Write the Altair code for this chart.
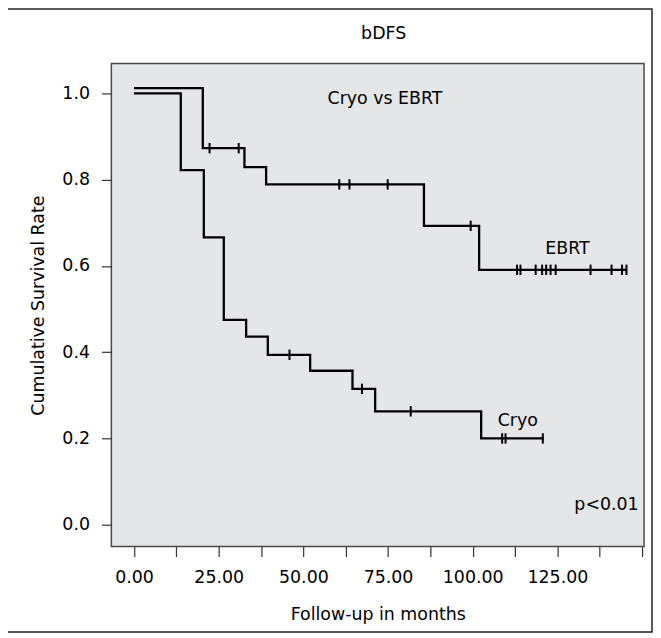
import altair as alt
import pandas as pd

# ---- data ----
ebrt_time = [0, 20.3, 32.6, 39.0, 85.6, 101.9, 145.6]
ebrt_surv = [1.012, 0.873, 0.829, 0.789, 0.693, 0.591, 0.591]
ebrt_cens_time = [22.3, 30.9, 60.6, 63.6, 74.9, 99.4, 113.1, 114.1, 118.6,
                  120.5, 121.7, 123.0, 124.5, 134.8, 141.0, 144.1, 145.4]
ebrt_cens_surv = [0.873, 0.873, 0.789, 0.789, 0.789, 0.693] + [0.591] * 11

cryo_time = [0, 13.8, 20.6, 26.5, 33.1, 39.5, 52.0, 64.5, 71.2, 102.5, 121.0]
cryo_surv = [1.0, 0.822, 0.666, 0.475, 0.436, 0.394, 0.357, 0.315, 0.263, 0.200, 0.200]
cryo_cens_time = [45.9, 67.3, 81.7, 108.7, 109.7, 120.7]
cryo_cens_surv = [0.394, 0.315, 0.263, 0.200, 0.200, 0.200]

ann_text = ["Cryo vs EBRT", "EBRT", "Cryo"]
ann_x = [74.1, 128.0, 113.3]
ann_y = [0.988, 0.64, 0.24]

p_text = ["p<0.01"]
p_x = [149.0]
p_y = [0.046]

title_text = "bDFS"

x_ticks = [0, 12.5, 25, 37.5, 50, 62.5, 75, 87.5, 100, 112.5, 125, 137.5, 150]
y_ticks = [0.0, 0.2, 0.4, 0.6, 0.8, 1.0]

FONT = "DejaVu Sans"
FS = 17.5

lines = pd.concat([
    pd.DataFrame({"group": "EBRT", "t": ebrt_time, "s": ebrt_surv}),
    pd.DataFrame({"group": "Cryo", "t": cryo_time, "s": cryo_surv}),
])
cens = pd.concat([
    pd.DataFrame({"group": "EBRT", "t": ebrt_cens_time, "s": ebrt_cens_surv}),
    pd.DataFrame({"group": "Cryo", "t": cryo_cens_time, "s": cryo_cens_surv}),
])
ann = pd.DataFrame({"label": ann_text, "t": ann_x, "s": ann_y})
pann = pd.DataFrame({"label": p_text, "t": p_x, "s": p_y})

xscale = alt.Scale(domain=[-6.7, 150.6], nice=False, zero=False)
yscale = alt.Scale(domain=[-0.0507, 1.0691], nice=False, zero=False)

xenc = alt.X("t:Q", scale=xscale, title="Follow-up in months",
             axis=alt.Axis(values=x_ticks,
                           labelExpr="(datum.value % 25 == 0 && datum.value <= 125) ? format(datum.value, '.2f') : ''",
                           tickSize=10, labelPadding=12, titlePadding=20,
                           labelFlush=False, labelOverlap=False))
yenc = alt.Y("s:Q", scale=yscale, title="Cumulative Survival Rate",
             axis=alt.Axis(values=y_ticks, format=".1f", tickSize=10,
                           labelPadding=12, titlePadding=14))

frame = alt.Chart(pd.DataFrame({"a": [0]})).mark_rect(
    fill="white", fillOpacity=0, stroke="#222", strokeWidth=1.5
).encode(
    x=alt.value(-106), x2=alt.value(544), y=alt.value(-55), y2=alt.value(572)
)

title = alt.Chart(pd.DataFrame({"label": [title_text]})).mark_text(
    font=FONT, fontSize=FS, color="black", align="center", baseline="middle"
).encode(x=alt.value(274), y=alt.value(-30), text="label:N")

steps = alt.Chart(lines).mark_line(
    interpolate="step-after", color="black", strokeWidth=2.3
).encode(x=xenc, y=yenc, detail="group:N")

ticks = alt.Chart(cens).mark_point(
    shape="M0,-1L0,1", size=110, filled=False, color="black", strokeWidth=2, opacity=1
).encode(x="t:Q", y="s:Q")

labels = alt.Chart(ann).mark_text(
    font=FONT, fontSize=FS, color="black", align="center", baseline="middle"
).encode(x="t:Q", y="s:Q", text="label:N")

plabel = alt.Chart(pann).mark_text(
    font=FONT, fontSize=FS, color="black", align="right", baseline="middle"
).encode(x="t:Q", y="s:Q", text="label:N")

chart = alt.layer(frame, title, steps, ticks, labels, plabel).properties(
    width=536, height=486,
    padding={"left": -3, "top": -2, "right": 0, "bottom": 0},
    background="white",
).configure_view(
    fill="#e5e6e8", stroke="#4a4a4a", strokeWidth=1.5
).configure_axis(
    domain=False, grid=False, labelFont=FONT, labelFontSize=FS, labelColor="black",
    titleFont=FONT, titleFontSize=FS, titleFontWeight="normal", titleColor="black",
    tickColor="#333", tickWidth=1.2
)

chart.save("out.html", embed_options={"renderer": "svg", "actions": False})
